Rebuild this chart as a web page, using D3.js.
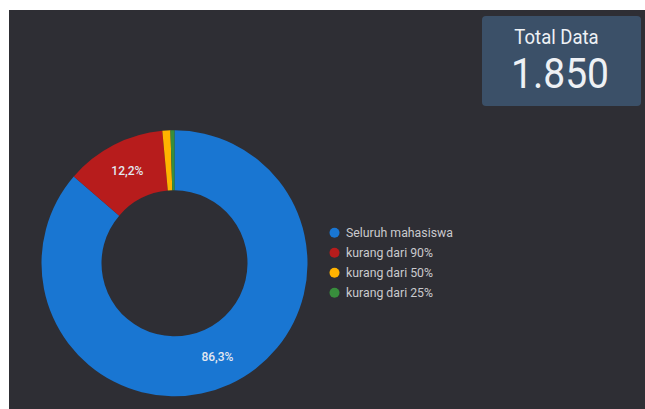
<!DOCTYPE html>
<html>
<head>
<meta charset="utf-8">
<script src="https://cdn.jsdelivr.net/npm/d3@7"></script>
<style>
  html, body { margin: 0; padding: 0; background: #ffffff; }
  svg { display: block; }
</style>
</head>
<body>
<svg id="chart" width="645" height="409"></svg>
<script>
// Share of students per attendance group
const categories = ["Seluruh mahasiswa", "kurang dari 90%", "kurang dari 50%", "kurang dari 25%"];
const counts = [1597, 226, 18, 9];
const colors = ["#1976d2", "#b71c1c", "#ffb300", "#388e3c"];
const totalLabel = "Total Data";
const totalValue = 1850;

const svg = d3.select("#chart");

// dark panel
svg.append("rect")
  .attr("x", 9).attr("y", 10)
  .attr("width", 636).attr("height", 399)
  .attr("fill", "#2e2e34");

// donut
const cx = 174.5, cy = 263.3, rOuter = 133, rInner = 73;
const pie = d3.pie().sort(null).value(d => d)(counts);
const arc = d3.arc().innerRadius(rInner).outerRadius(rOuter);
const total = d3.sum(counts);
const fmt = v => (Math.round(v * 1000) / 10).toFixed(1).replace(".", ",") + "%";

const g = svg.append("g").attr("transform", `translate(${cx},${cy})`);
g.selectAll("path.slice")
  .data(pie)
  .join("path")
  .attr("class", "slice")
  .attr("d", arc)
  .attr("fill", (d, i) => colors[i]);

g.selectAll("text.pct")
  .data(pie.filter(d => d.value / total >= 0.05))
  .join("text")
  .attr("class", "pct")
  .attr("transform", d => `translate(${arc.centroid(d)})`)
  .attr("text-anchor", "middle")
  .attr("dy", "0.3em")
  .attr("font-family", "Roboto, sans-serif")
  .attr("font-size", 12)
  .attr("font-weight", 500)
  .attr("fill", "#e3e8f0")
  .text(d => fmt(d.value / total));

// legend
const legend = svg.append("g").attr("transform", "translate(334.5,232.7)");
const item = legend.selectAll("g")
  .data(categories)
  .join("g")
  .attr("transform", (d, i) => `translate(0,${i * 20})`);
item.append("circle").attr("r", 5).attr("fill", (d, i) => colors[i]);
item.append("text")
  .attr("x", 11.5)
  .attr("dy", "0.35em")
  .attr("font-family", "Roboto, sans-serif")
  .attr("font-size", 12.3)
  .attr("fill", "#cacace")
  .text(d => d);

// total scorecard
const card = svg.append("g");
card.append("rect")
  .attr("x", 482).attr("y", 16)
  .attr("width", 159).attr("height", 90)
  .attr("rx", 4)
  .attr("fill", "#3b5068");
card.append("text")
  .attr("transform", "translate(556.5,44) scale(0.95,1)")
  .attr("text-anchor", "middle")
  .attr("font-family", "Roboto, sans-serif")
  .attr("font-size", 19.5)
  .attr("fill", "#eef1f5")
  .text(totalLabel);
card.append("text")
  .attr("transform", "translate(560,88) scale(0.93,1)")
  .attr("text-anchor", "middle")
  .attr("font-family", "Roboto, sans-serif")
  .attr("font-size", 42)
  .attr("fill", "#eef1f5")
  .text(d3.format(",")(totalValue).replace(/,/g, "."));
</script>
</body>
</html>
